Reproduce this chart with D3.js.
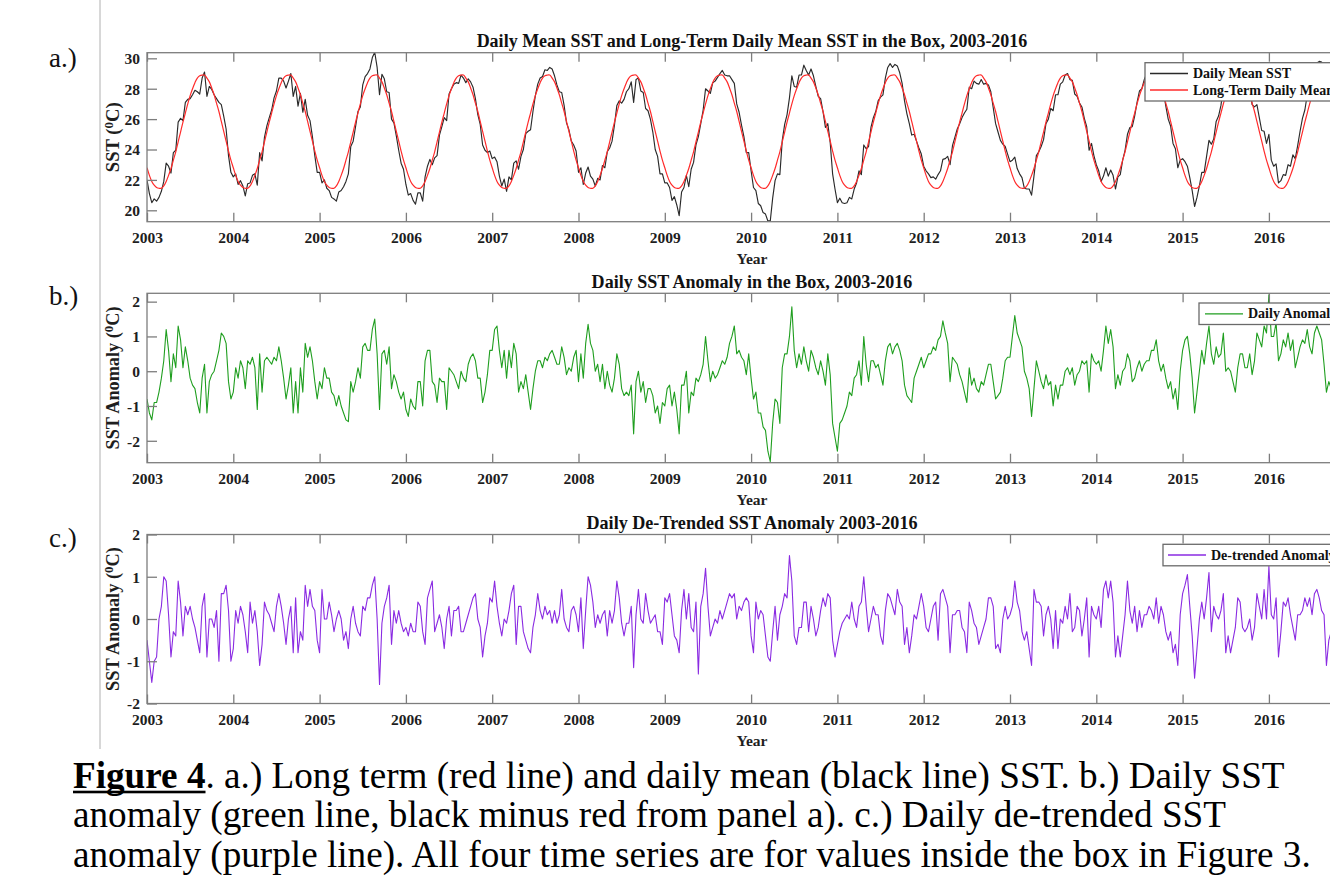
<!DOCTYPE html>
<html>
<head>
<meta charset="utf-8">
<script src="https://cdn.jsdelivr.net/npm/d3@7"></script>
<style>
  body { margin: 0; background: #ffffff; }
  svg { display: block; }
</style>
</head>
<body>
<svg id="fig" width="1330" height="879"></svg>
<script>
// ---------------- DATA ----------------
const startYear = 2003;
const samplesPerYear = 36;           // one value every ~10 days
const yearTicks = [2003, 2004, 2005, 2006, 2007, 2008, 2009, 2010, 2011, 2012, 2013, 2014, 2015, 2016];
const sstTicks = [20, 22, 24, 26, 28, 30];
const anomalyTicks = [-2, -1, 0, 1, 2];

// Long-term daily mean SST (one climatological year, repeated every year), deg C
const climatology = [22.8, 22.3, 21.9, 21.65, 21.5, 21.45, 21.45, 21.6, 21.9, 22.3, 22.75, 23.3,
  23.85, 24.5, 25.15, 25.8, 26.4, 27.0, 27.55, 28.0, 28.4, 28.7, 28.85, 28.9,
  28.9, 28.7, 28.45, 28.05, 27.6, 27.05, 26.5, 25.85, 25.2, 24.55, 23.9, 23.3];

// Daily SST anomaly (green, panel b), deg C
const dailyAnomaly = [
  // 2003
  -0.8,-1.2,-1.4,-0.9,-0.9,-0.6,-0.2,0.3,1.2,0.6,-0.3,0.5,0.1,1.3,0.9,0.1,0.7,0.3,-0.2,-0.4,-0.5,-0.9,-1.2,-0.2,0.2,-1.2,-0.3,-0.1,0.0,0.3,0.6,1.1,1.0,0.8,-0.3,-0.8,
  // 2004
  -0.6,0.1,-0.2,0.3,0.1,-0.5,0.3,0.2,0.4,0.1,-1.1,0.5,-0.6,0.3,0.4,0.3,0.2,0.4,0.3,0.7,0.3,-0.2,-0.8,-0.4,0.1,-1.2,-0.3,-1.2,0.1,-0.6,0.8,0.4,0.7,0.3,-0.3,-0.8,
  // 2005
  -0.3,-0.5,0.1,-0.2,-0.2,-0.6,-0.7,-1.0,-0.7,-1.0,-1.2,-1.4,-1.45,-0.3,-0.6,-0.3,0.1,-0.2,0.7,0.8,0.6,0.6,1.2,1.5,0.5,-1.1,0.5,0.6,0.2,0.7,-0.5,-0.1,-0.3,-0.6,-0.8,-0.6,
  // 2006
  -1.1,-1.3,-0.8,-1.0,-1.1,-0.3,-0.3,-1.0,0.3,0.6,0.6,-0.3,-0.4,-0.9,-0.2,-0.3,-0.3,-1.1,0.1,
  0.0,-0.1,-0.3,-0.5,0.0,-0.2,-0.3,0.2,0.4,0.5,0.3,-0.2,-0.2,-0.9,-0.6,-0.1,0.6,
  // 2007
  0.6,1.2,1.3,0.6,0.1,0.6,-0.2,0.6,0.1,0.8,0.5,-0.6,-0.3,-0.5,-0.1,-0.6,-1.1,-0.5,0.0,0.3,0.3,0.1,0.4,0.3,0.5,0.6,0.4,0.2,0.2,0.7,0.4,-0.1,0.1,0.0,0.4,0.6,
  // 2008
  -0.3,0.5,-0.2,0.8,1.35,0.8,0.6,0.0,0.2,-0.3,0.2,-0.5,0.0,-0.4,-0.6,-0.2,0.5,0.2,-0.5,-0.7,-0.6,-0.7,-0.4,-1.8,-0.3,0.0,-0.6,-0.3,-0.9,-0.5,-0.5,-0.7,-1.2,-1.0,-1.5,-0.9,
  // 2009
  -1.0,-0.5,-0.4,-1.0,-0.6,-1.1,-1.8,-0.4,-0.4,0.0,-1.2,-0.6,-0.7,-0.2,-0.3,-0.1,0.2,1.0,0.3,-0.3,0.0,-0.2,-0.1,0.1,0.3,0.2,0.4,0.8,1.0,1.3,0.5,0.6,0.4,0.3,-0.1,0.5,
  // 2010
  -0.2,-0.8,-0.6,-1.2,-1.2,-1.6,-1.7,-2.3,-2.6,-1.5,-0.8,-0.9,-1.5,0.1,0.5,0.5,1.0,1.85,0.6,0.1,0.5,0.2,0.7,0.3,0.0,0.6,0.4,0.1,-0.1,0.3,0.0,-0.4,0.5,-0.1,-1.5,-1.9,
  // 2011
  -2.3,-1.5,-1.4,-1.2,-1.0,-0.6,-0.7,-0.2,-0.1,0.3,-0.4,1.0,0.2,-0.3,0.3,0.3,0.1,0.2,-0.1,-0.4,0.3,0.7,
  0.8,0.5,0.7,0.8,0.6,0.3,-0.4,-0.7,-0.8,-0.9,-0.2,0.0,0.2,0.4,
  // 2012
  0.1,0.3,0.5,0.5,0.7,0.6,0.9,1.0,1.45,1.1,0.8,-0.3,0.4,0.3,0.2,-0.1,-0.3,-0.6,-0.9,0.1,-0.4,-0.2,-0.5,-0.6,-0.3,-0.4,-0.1,0.2,0.2,-0.3,-0.8,-0.7,-0.6,-0.2,0.3,0.4,
  // 2013
  0.4,1.0,1.6,1.1,0.9,0.7,0.0,-0.2,-0.5,-1.3,-0.5,0.3,0.0,-0.3,-0.5,-0.1,-0.4,-0.3,-1.0,-0.4,-0.8,-0.4,-0.4,0.0,0.1,-0.1,0.1,-0.4,-0.1,0.0,0.3,0.2,0.3,-0.6,0.5,0.3,
  // 2014
  0.2,0.3,0.0,0.6,1.3,0.8,1.2,0.7,-0.5,-0.1,-0.4,0.0,0.1,0.5,0.3,-0.3,-0.2,0.1,0.3,0.0,0.2,0.3,0.3,0.6,0.6,0.9,0.3,0.0,0.2,-0.2,-0.5,-0.3,-0.8,-0.5,-1.1,0.0,
  // 2015
  0.6,0.9,1.0,0.5,-0.2,-1.2,-0.6,0.0,0.6,0.2,0.8,1.3,0.5,0.2,0.7,0.4,0.5,1.1,0.0,0.1,0.0,-0.3,-0.6,0.1,0.5,0.5,0.1,0.1,0.5,-0.1,0.3,1.1,0.9,0.7,1.3,1.1,
  // 2016
  2.2,1.0,1.0,1.4,0.3,0.5,0.9,0.7,1.1,0.6,0.9,0.1,0.4,0.7,0.9,0.8,1.2,0.7,0.5,1.1,1.3,1.1,0.9,0.2,-0.6,-0.3,-0.5,-0.2
];

// Daily de-trended SST anomaly (purple, panel c), deg C
const detrendedAnomaly = [
  // 2003
  -0.5,-1.0,-1.5,-1.0,-0.9,0.0,0.3,1.0,0.9,0.1,-0.9,-0.3,-0.4,0.9,0.4,-0.4,0.3,0.1,0.3,0.0,-0.2,-0.5,-0.8,0.3,0.6,-0.9,0.0,0.0,-0.2,0.2,-1.0,0.6,0.6,0.8,0.2,-1.0,
  // 2004
  -0.7,0.2,-0.1,0.3,0.1,-0.3,-0.8,0.4,-0.1,0.2,-0.3,-1.1,-0.6,0.4,0.2,0.1,-0.1,-0.3,0.3,0.6,0.3,-0.1,-0.6,0.0,0.3,-0.8,0.5,-0.8,-0.3,-0.5,0.8,0.3,0.7,0.3,0.2,-0.5,
  // 2005
  -0.8,0.7,0.0,0.0,0.4,0.1,-0.3,0.0,0.2,0.0,-0.5,-0.3,-0.7,0.0,0.3,-0.1,-0.3,-0.4,0.3,0.2,0.5,0.5,0.8,1.0,0.0,-1.55,-0.1,0.3,0.5,0.8,-0.6,0.2,-0.1,0.2,-0.1,-0.3,
  // 2006
  -0.2,-0.4,-0.1,-0.3,-0.3,0.4,0.3,-0.3,-0.6,0.5,0.7,0.9,-0.3,-0.1,0.1,-0.2,-0.7,0.0,0.3,
  -0.4,0.2,0.2,0.3,-0.3,-0.3,-0.1,0.1,0.3,0.5,0.6,0.0,-0.2,-0.9,-0.4,-0.1,0.5,
  // 2007
  0.4,0.9,0.3,-0.1,-0.4,0.0,-0.1,0.2,0.6,0.8,-0.6,0.3,0.3,-0.3,-0.5,-0.7,-0.8,-0.2,0.1,0.6,0.2,0.0,0.3,0.1,0.2,-0.1,0.2,-0.1,0.1,0.7,0.0,-0.2,-0.3,0.2,0.3,0.1,
  // 2008
  -0.3,0.5,-0.7,0.2,1.0,0.8,0.4,-0.2,0.1,-0.1,0.1,0.2,-0.4,0.2,-0.1,0.2,0.9,0.5,-0.1,-0.4,-0.1,-0.1,0.3,-1.15,0.1,0.7,0.0,-0.1,0.6,0.2,-0.1,0.0,0.1,-0.3,-0.3,-0.6,
  // 2009
  0.5,0.4,0.6,0.1,-0.4,-0.5,-0.8,0.2,0.7,0.0,0.6,-0.2,-0.3,0.4,-1.3,0.3,0.6,1.2,0.3,-0.4,-0.2,0.0,-0.1,0.2,0.0,0.2,0.4,0.6,0.5,0.6,0.0,0.3,0.2,0.4,0.5,0.4,
  // 2010
  -0.4,-0.8,0.4,0.0,0.2,0.1,-0.4,-0.9,-1.0,-0.3,0.3,-0.5,0.1,0.3,0.6,0.5,1.5,0.9,-0.4,-0.6,-0.2,-0.2,0.4,0.4,-0.3,0.3,0.0,-0.4,-0.2,0.2,0.5,0.3,0.6,0.5,-0.5,-0.9,
  // 2011
  -0.6,-0.3,-0.1,0.0,0.1,0.0,0.4,0.0,-0.2,0.3,0.4,1.0,0.3,-0.3,0.0,0.3,0.1,0.1,-0.4,-0.6,0.2,0.6,
  0.5,0.3,0.1,0.7,0.4,0.3,-0.6,-0.2,-0.8,-0.4,0.1,0.0,0.3,0.6,
  // 2012
  0.3,-0.2,-0.3,0.0,0.3,0.4,-0.5,0.6,0.7,0.5,0.3,-0.8,0.1,0.1,0.2,0.2,-0.2,-0.3,-0.8,0.4,0.2,-0.1,-0.2,-0.6,-0.4,-0.2,0.0,0.5,0.5,0.3,-0.7,-0.6,-0.8,0.0,0.3,0.0,
  // 2013
  0.1,0.3,0.9,0.4,0.2,-0.3,-0.5,-0.3,-0.7,-1.1,0.7,0.4,0.4,0.3,-0.4,0.1,0.3,0.0,-0.7,0.2,-0.7,0.0,-0.1,0.3,0.0,0.6,-0.3,-0.2,0.3,0.2,-0.4,0.0,0.5,-0.9,0.3,0.1,
  // 2014
  0.0,0.3,-0.2,0.7,0.9,0.5,0.9,0.4,-0.9,-0.4,-0.9,-0.4,0.1,0.9,0.2,-0.1,0.3,-0.3,0.2,-0.2,0.1,0.1,0.3,0.2,0.0,0.5,-0.1,0.3,0.1,-0.3,-0.5,-0.3,-0.8,-0.6,-1.1,0.1,
  // 2015
  0.6,0.8,1.05,0.3,-0.4,-1.4,-0.7,0.0,0.4,0.0,0.5,1.1,-0.3,0.3,0.1,0.0,0.2,0.6,-0.8,-0.4,-0.8,-0.5,-0.2,0.5,0.4,-0.2,-0.3,-0.2,0.0,-0.5,-0.2,0.6,0.3,0.0,0.7,0.0,
  // 2016
  1.25,0.1,0.0,0.5,-0.9,-0.3,0.4,0.3,0.5,0.1,-0.2,-0.5,0.1,0.1,0.2,0.5,0.3,0.5,0.1,0.6,0.7,0.5,0.2,0.1,-1.1,-0.5,-0.3,0.0
];

// Texts
const panelTitles = [
  "Daily Mean SST and Long-Term Daily Mean SST in the Box, 2003-2016",
  "Daily SST Anomaly in the Box, 2003-2016",
  "Daily De-Trended SST Anomaly 2003-2016"
];
const panelLetters = ["a.)", "b.)", "c.)"];
const yLabelMain = ["SST (", "SST Anomaly (", "SST Anomaly ("];
const legendLabels = [["Daily Mean SST", "Long-Term Daily Mean SST"], ["Daily Anomaly"], ["De-trended Anomaly"]];
const captionLines = [
  ". a.) Long term (red line) and daily mean (black line) SST. b.) Daily SST",
  "anomaly (green line, black minus red from panel a). c.) Daily de-trended SST",
  "anomaly (purple line). All four time series are for values inside the box in Figure 3."
];

// Derived series: black = red + green (as stated in the caption)
const timeOf = i => startYear + i / samplesPerYear;
const longTermSeries = dailyAnomaly.map((a, i) => climatology[i % samplesPerYear]);
const dailyMeanSeries = dailyAnomaly.map((a, i) => climatology[i % samplesPerYear] + a);

// ---------------- DRAWING ----------------
const SERIF = "'Liberation Serif', 'Times New Roman', Times, serif";
const svg = d3.select("#fig");
svg.append("rect").attr("width", 1330).attr("height", 879).attr("fill", "#fff");

const x = d3.scaleLinear().domain([2003, 2017]).range([147, 1355.2]);
const plotLeft = 147, plotRight = 1355.2;

function fitText(sel, target) {
  const w = sel.node().getComputedTextLength();
  const fs = parseFloat(sel.attr("font-size"));
  sel.attr("font-size", (fs * target / w).toFixed(2));
}

// thin vertical page rule
svg.append("line").attr("x1", 100).attr("x2", 100).attr("y1", 0).attr("y2", 749)
  .attr("stroke", "#b0b0b0").attr("stroke-width", 1);

const panels = [
  { top: 52.7, bottom: 221.7, domain: [19.25, 30.37], ticks: sstTicks,
    titleY: 47, titleW: 551, letterY: 67, ylabW: 70,
    series: [{ v: dailyMeanSeries, c: "#2a2a2a", w: 1.15 }, { v: longTermSeries, c: "#ff2b2b", w: 1.2 }],
    legend: { x: 1145, y: 62.7, h: 38.3, rows: [73.5, 90], lx: 1150, tx: 1193 } },
  { top: 293.3, bottom: 462.7, domain: [-2.63, 2.24], ticks: anomalyTicks,
    titleY: 288.3, titleW: 321, letterY: 305, ylabW: 143,
    series: [{ v: dailyAnomaly, c: "#1f9e1f", w: 1.1 }],
    legend: { x: 1199, y: 303, h: 21.5, rows: [313.8], lx: 1205, tx: 1248 } },
  { top: 534.5, bottom: 703.5, domain: [-2, 2.0], ticks: anomalyTicks,
    titleY: 529.3, titleW: 331, letterY: 547, ylabW: 144,
    series: [{ v: detrendedAnomaly, c: "#8a2be2", w: 1.1 }],
    legend: { x: 1163, y: 544.3, h: 21.5, rows: [555], lx: 1168, tx: 1211 } }
];

panels.forEach((p, pi) => {
  const y = d3.scaleLinear().domain(p.domain).range([p.bottom, p.top]);
  const g = svg.append("g");
  const clipId = "clip" + pi;
  svg.append("clipPath").attr("id", clipId).append("rect")
    .attr("x", plotLeft).attr("y", p.top).attr("width", plotRight - plotLeft).attr("height", p.bottom - p.top);

  // data lines
  const lines = g.append("g").attr("clip-path", `url(#${clipId})`);
  p.series.forEach(s => {
    const line = d3.line().x((d, i) => x(timeOf(i))).y(d => y(d));
    if (s.v === longTermSeries) line.curve(d3.curveCatmullRom);
    lines.append("path").datum(s.v).attr("d", line)
      .attr("fill", "none").attr("stroke", s.c).attr("stroke-width", s.w)
      .attr("stroke-linejoin", "round");
  });

  // box
  g.append("rect").attr("x", plotLeft).attr("y", p.top)
    .attr("width", plotRight - plotLeft).attr("height", p.bottom - p.top)
    .attr("fill", "none").attr("stroke", "#7d7d7d").attr("stroke-width", 1.3);

  // axes: inside ticks at bottom, top and left
  const fmt = d => String(d);
  const xb = g.append("g").attr("transform", `translate(0,${p.bottom})`)
    .call(d3.axisBottom(x).tickValues(yearTicks).tickSize(-9).tickPadding(12).tickFormat(fmt));
  const xt = g.append("g").attr("transform", `translate(0,${p.top})`)
    .call(d3.axisTop(x).tickValues(yearTicks).tickSize(-9).tickFormat(""));
  const yl = g.append("g").attr("transform", `translate(${plotLeft},0)`)
    .call(d3.axisLeft(y).tickValues(p.ticks).tickSize(-10).tickPadding(18).tickFormat(fmt));
  [xb, xt, yl].forEach(a => {
    a.select(".domain").remove();
    a.selectAll(".tick line").attr("stroke", "#7d7d7d").attr("stroke-width", 1.3);
    a.selectAll(".tick text").attr("font-family", SERIF).attr("font-weight", "bold")
      .attr("font-size", 15.5).attr("fill", "#1e1e1e");
  });
  xb.selectAll(".tick text").attr("dy", null).attr("y", 21.5).attr("dominant-baseline", "auto");
  yl.selectAll(".tick text").attr("x", -7).attr("dy", "0.34em");

  // title
  const t = svg.append("text").attr("x", 752).attr("y", p.titleY).attr("text-anchor", "middle")
    .attr("font-family", SERIF).attr("font-weight", "bold").attr("font-size", 14).attr("fill", "#111")
    .text(panelTitles[pi]);
  fitText(t, p.titleW);

  // x axis label
  svg.append("text").attr("x", 752).attr("y", p.bottom + 42).attr("text-anchor", "middle")
    .attr("font-family", SERIF).attr("font-weight", "bold").attr("font-size", 15.5).attr("fill", "#1e1e1e")
    .text("Year");

  // y axis label with superscript 0
  const yc = (p.top + p.bottom) / 2;
  const yt = svg.append("text").attr("transform", `translate(119,${yc}) rotate(-90)`)
    .attr("text-anchor", "middle").attr("font-family", SERIF).attr("font-weight", "bold")
    .attr("font-size", 16).attr("fill", "#1e1e1e");
  yt.append("tspan").text(yLabelMain[pi]);
  yt.append("tspan").attr("font-size", "0.7em").attr("dy", -6).text("0");
  yt.append("tspan").attr("dy", 6).text("C)");
  fitText(yt, p.ylabW);

  // panel letter
  svg.append("text").attr("x", 49).attr("y", p.letterY).attr("font-family", SERIF)
    .attr("font-size", 27).attr("fill", "#111").text(panelLetters[pi]);

  // legend (box runs past the right edge, as in the reference)
  const L = p.legend;
  svg.append("rect").attr("x", L.x).attr("y", L.y).attr("width", 400).attr("height", L.h)
    .attr("fill", "#fff").attr("stroke", "#6a6a6a").attr("stroke-width", 1.3);
  L.rows.forEach((ry, ri) => {
    const s = p.series[ri];
    svg.append("line").attr("x1", L.lx).attr("x2", L.lx + 38).attr("y1", ry).attr("y2", ry)
      .attr("stroke", s.c).attr("stroke-width", 1.3);
    svg.append("text").attr("x", L.tx).attr("y", ry + 4.6).attr("font-family", SERIF)
      .attr("font-weight", "bold").attr("font-size", 14).attr("fill", "#111")
      .text(legendLabels[pi][ri]);
  });
});

// ---------------- CAPTION ----------------
const capBase = [787.7, 826.7, 866.7];
let capFont = 30;
const capGroups = capBase.map(b => svg.append("g").attr("transform", `translate(73,${b})`));
const t1 = capGroups[0].append("text").attr("x", 0).attr("y", 0)
  .attr("font-family", SERIF).attr("font-size", capFont).attr("fill", "#000");
t1.append("tspan").attr("font-weight", "bold").text("Figure 4");
t1.append("tspan").text(captionLines[0]);
const w1 = t1.node().getComputedTextLength();
capFont = capFont * 1212 / w1;
t1.attr("font-size", capFont);
const figLen = t1.node().getSubStringLength(0, 8);
capGroups[0].append("rect").attr("x", 0).attr("y", 3).attr("width", figLen).attr("height", 2.6).attr("fill", "#000");
[1, 2].forEach(k => {
  capGroups[k].append("text").attr("x", 0).attr("y", 0)
    .attr("font-family", SERIF).attr("font-size", capFont).attr("fill", "#000")
    .text(captionLines[k]);
});
</script>
</body>
</html>
